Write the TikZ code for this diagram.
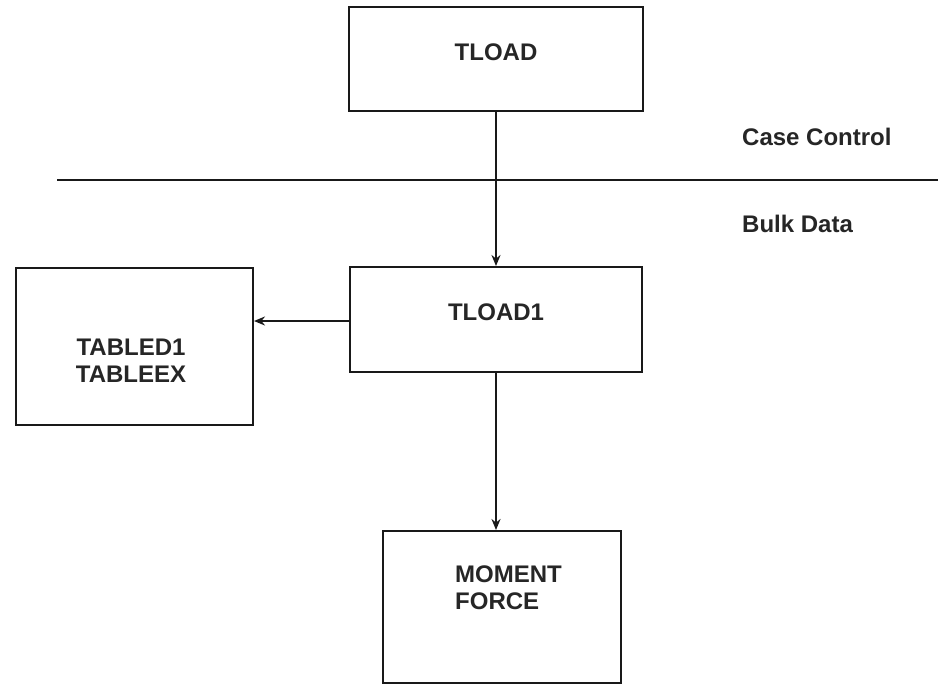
\documentclass[tikz,border=0pt]{standalone}
\usepackage{fontspec}
\setmainfont{Liberation Sans}
\usetikzlibrary{arrows.meta}
\begin{document}
\begin{tikzpicture}[x=1pt,y=-1pt,
  box/.style={draw=black!90,line width=2pt,rectangle,inner sep=0pt},
  lbl/.style={font=\fontsize{24}{27}\selectfont\bfseries,text=black!85,inner sep=0pt},
  conn/.style={draw=black!90,line width=2pt,-{Stealth[length=11pt,width=9pt]}}]
\useasboundingbox[fill=white] (0,0) rectangle (942,686);
% boxes
\node[box,minimum width=294pt,minimum height=104pt] (tload) at (496,59) {};
\node[box,minimum width=292pt,minimum height=105pt] (tload1) at (496,319.5) {};
\node[box,minimum width=237pt,minimum height=157pt] (tabled) at (134.5,346.5) {};
\node[box,minimum width=238pt,minimum height=152pt] (moment) at (502,607) {};
% texts
\node[lbl] (tloadtxt) at (496,52) {TLOAD};
\node[lbl] (tload1txt) at (496,312) {TLOAD1};
\node[lbl,align=center] (tabledtxt) at (131,361) {TABLED1\\TABLEEX};
\node[lbl,align=left,anchor=west] (momenttxt) at (455,588) {MOMENT\\FORCE};
\node[lbl,anchor=west] (cc) at (742,137) {Case Control};
\node[lbl,anchor=west] (bd) at (742,224) {Bulk Data};
% divider
\coordinate (dl) at (57,180);
\coordinate (dr) at (938,180);
\draw[draw=black!90,line width=2pt] (dl) -- (dr);
% connectors
\draw[conn] (tload.south) -- (tload1.north);
\draw[conn] (tload1.west |- 0,321) -- (tabled.east |- 0,321);
\draw[conn] (tload1.south) -- (tload1.south |- moment.north);
\end{tikzpicture}
\end{document}
